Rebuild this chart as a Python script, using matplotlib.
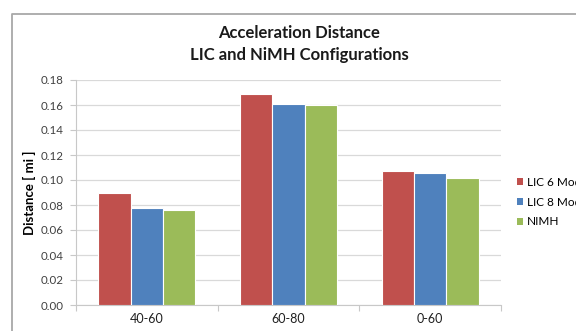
import matplotlib
matplotlib.use("Agg")
import matplotlib.pyplot as plt
from matplotlib.lines import Line2D
from matplotlib.patches import Patch
import numpy as np

plt.rcParams['font.family'] = ['Lato', 'DejaVu Sans']

categories = ["40-60", "60-80", "0-60"]
series_names = ["LIC 6 Modules", "LIC 8 Modules", "NIMH"]
lic6 = [0.090, 0.169, 0.1075]
lic8 = [0.0775, 0.161, 0.1055]
nimh = [0.0757, 0.1603, 0.102]
colors = ["#c0504d", "#4f81bd", "#9bbb59"]
y_ticks = [0.00, 0.02, 0.04, 0.06, 0.08, 0.10, 0.12, 0.14, 0.16, 0.18]

W, H = 576, 331
fig = plt.figure(figsize=(W / 100, H / 100), dpi=100)
fig.patch.set_facecolor("white")

# chart frame along the top and left
fig.add_artist(Line2D([12 / W, 12 / W, 1.0], [0.0, 1 - 13.5 / H, 1 - 13.5 / H],
                      transform=fig.transFigure, color="#a8a8a8", lw=1.3))

ax = fig.add_axes([76 / W, (H - 305) / H, 425 / W, 225 / H])
x = np.arange(len(categories))
bw = 0.229
for i, (vals, c) in enumerate(zip([lic6, lic8, nimh], colors)):
    ax.bar(x + (i - 1) * bw, vals, width=bw, color=c, edgecolor="white",
           linewidth=0.8, zorder=3)

ax.set_xlim(-0.5, len(categories) - 0.5)
ax.set_ylim(0, 0.18)
ax.set_yticks(y_ticks)
ax.set_yticklabels([f"{v:.2f}" for v in y_ticks], fontsize=8.3, color="#404040")
ax.yaxis.grid(True, color="#d9d9d9", lw=0.9, zorder=0)
ax.set_xticks(x)
ax.set_xticklabels(categories, fontsize=9, color="#202020")
ax.tick_params(axis="x", length=0, pad=6)
ax.tick_params(axis="y", length=4, color="#c8c8c8", width=0.8, pad=5)
# category separators on the x axis
ax.set_xticks(np.arange(-0.5, len(categories), 1.0), minor=True)
ax.tick_params(axis="x", which="minor", length=4, color="#c8c8c8", width=0.8)

for s in ["top", "right"]:
    ax.spines[s].set_visible(False)
ax.spines["left"].set_color("#c8c8c8")
ax.spines["left"].set_linewidth(0.8)
ax.spines["bottom"].set_color("#c8c8c8")
ax.spines["bottom"].set_linewidth(0.8)

ax.set_ylabel("Distance [ mi ]", fontsize=9.5, fontweight="bold", labelpad=3)

fig.text(299 / W, 1 - 33 / H, "Acceleration Distance", ha="center", va="center",
         fontsize=12, fontweight="bold", color="#1a1a1a")
fig.text(299 / W, 1 - 55 / H, "LIC and NiMH Configurations", ha="center", va="center",
         fontsize=12, fontweight="bold", color="#1a1a1a")

handles = [Patch(facecolor=c, edgecolor="none") for c in colors]
fig.legend(handles, series_names, loc="center left",
           bbox_to_anchor=(512 / W, 1 - 202 / H), frameon=False, fontsize=8.5,
           handlelength=0.55, handleheight=0.55, handletextpad=0.35,
           labelspacing=0.75, borderaxespad=0)

fig.savefig("out.png", dpi=100, facecolor="white")
